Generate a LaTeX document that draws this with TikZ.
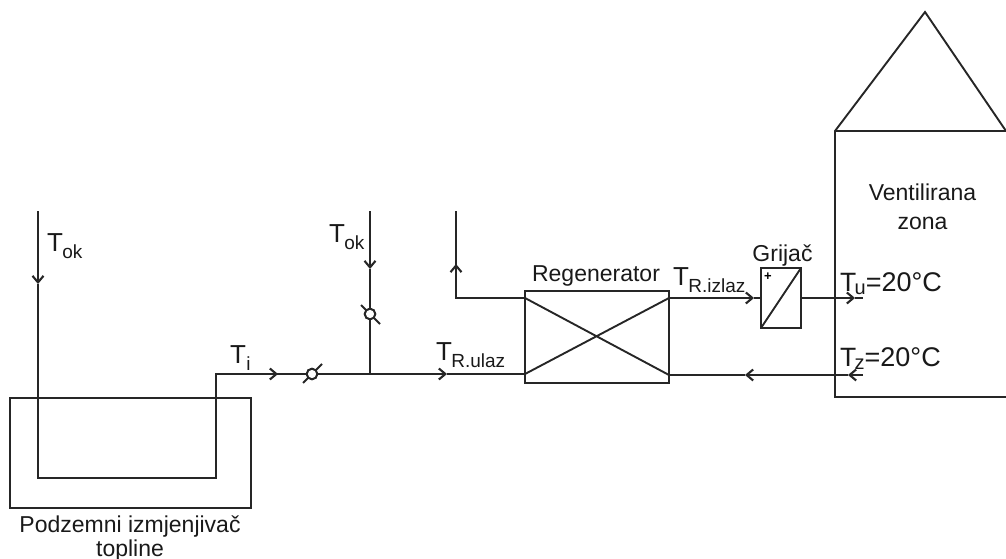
\documentclass[tikz,border=0pt]{standalone}
\usepackage{fontspec}
\setmainfont{Liberation Sans}
\usetikzlibrary{arrows.meta}
\newcommand{\fs}[1]{\fontsize{#1}{#1}\selectfont}
\newcommand{\Tsub}[2]{{\fs{26}T}\kern-0.5pt\raisebox{-7pt}{\fs{19}#2}}
\tikzset{
  x=1pt,y=-1pt,
  lin/.style={draw=black!85,line width=1.9pt,line join=miter},
  pipe/.style={lin},
  arr/.style={lin,-{Straight Barb[length=6.5pt,width=11pt,line width=2.1pt]}},
  block/.style={lin,rectangle,inner sep=0pt,outer sep=0pt},
  valve/.style={lin,circle,fill=white,minimum size=10.5pt,inner sep=0pt,line width=1.9pt},
  lab/.style={inner sep=0pt,outer sep=0pt,anchor=base west,text=black!90},
  captxt/.style={inner sep=0pt,outer sep=0pt,anchor=base,text=black!90,font=\fs{23}},
}
\begin{document}
\begin{tikzpicture}
\useasboundingbox (0,0) rectangle (1006,559);
% ground exchanger
\node[block,minimum width=241pt,minimum height=110pt] (ground) at (130.5,453) {};
\coordinate (a0) at (38,211);
\coordinate (a1) at (38,284);
\coordinate (a2) at (38,478);
\coordinate (a3) at (216,478);
\coordinate (a4) at (216,374);
\coordinate (a5) at (278,374);
\node[valve] (v1) at (312,374) {};
\coordinate (j) at (370,374);
\coordinate (j1) at (447,374);
\coordinate (t0) at (370,211);
\coordinate (t1) at (370,269);
\node[valve] (v2) at (370,314) {};
% regenerator
\node[block,minimum width=144pt,minimum height=92pt] (reg) at (597,337) {};
\coordinate (rNW) at (525,298);
\coordinate (rSW) at (525,374);
\coordinate (rNE) at (669,298);
\coordinate (rSE) at (669,375);
\coordinate (b0) at (456,211);
\coordinate (b1) at (456,264);
\coordinate (b2) at (456,298);
% heater
\node[block,minimum width=40pt,minimum height=60pt] (heat) at (781,298) {};
\coordinate (c1) at (754,298);
\coordinate (c2) at (855,298);
\coordinate (c3) at (863,298);
\coordinate (d0) at (863,375);
\coordinate (d1) at (848,375);
\coordinate (d2) at (745,375);
% house
\coordinate (h1) at (1006,397);
\coordinate (h2) at (835,397);
\coordinate (h3) at (835,131);
\coordinate (h4) at (925,12);
\coordinate (h5) at (1006,131);
\draw[lin] (h1) -- (h2) -- (h3) -- (h4) -- (h5) (h3) -- (h5);
% pipes
\draw[arr] (a0) -- (a1);
\draw[pipe] (a1) -- (a2) -- (a3) -- (a4) -- (a5);
\draw[arr] (a4) -- (a5);
\draw[pipe] (a5) -- (v1);
\draw[pipe] (v1) -- (j);
\draw[arr] (j) -- (j1);
\draw[pipe] (j1) -- (rSW);
\draw[arr] (t0) -- (t1);
\draw[pipe] (t1) -- (v2);
\draw[pipe] (v2) -- (j);
\draw[pipe] (rNW) -- (b2) -- (b1);
\draw[arr] (b2) -- (b1);
\draw[pipe] (b1) -- (b0);
\draw[lin] (rNW) -- (rSE) (rSW) -- (rNE);
\draw[arr] (rNE) -- (c1);
\draw[pipe] (c1) -- (heat.west);
\draw[lin] (heat.south west) -- (heat.north east);
\draw[arr] (heat.east) -- (c2);
\draw[pipe] (c2) -- (c3);
\draw[arr] (d0) -- (d1);
\draw[arr] (d1) -- (d2);
\draw[pipe] (d2) -- (rSE);
% valve stems
\draw[lin] (303,383) -- (v1.center) -- (322,364);
\draw[lin] (361,305) -- (v2.center) -- (380,324);
\node[valve] at (v1.center) {};
\node[valve] at (v2.center) {};
% plus
\node[inner sep=0pt,font=\bfseries\fs{13}] (plus) at (768,277) {+};
% labels
\node[lab] (l1) at (47,251) {\Tsub{T}{ok}};
\node[lab] (l2) at (329,242) {\Tsub{T}{ok}};
\node[lab] (l3) at (230,363) {{\fs{26}T}\kern0.5pt\raisebox{-7pt}{\fs{19}i}};
\node[lab] (l4) at (436,360) {\Tsub{T}{R.ulaz}};
\node[lab] (l5) at (673,285) {\Tsub{T}{R.izlaz}};
\node[lab] (l6) at (840,291) {{\fs{26.5}T}\kern-1.5pt\raisebox{-3pt}{\fs{20}u}{\fs{27}=20°C}};
\node[lab] (l7) at (840,366) {{\fs{26.5}T}\kern-1.5pt\raisebox{-3pt}{\fs{20}z}{\fs{27}=20°C}};
\node[captxt] (l8) at (596,281) {Regenerator};
\node[captxt] (l9) at (782.5,261) {Grijač};
\node[captxt] (l10) at (922.5,200) {Ventilirana};
\node[captxt] (l11) at (922.5,229) {zona};
\node[captxt] (l12) at (130,532) {Podzemni izmjenjivač};
\node[captxt] (l13) at (130,556) {topline};
\end{tikzpicture}
\end{document}
